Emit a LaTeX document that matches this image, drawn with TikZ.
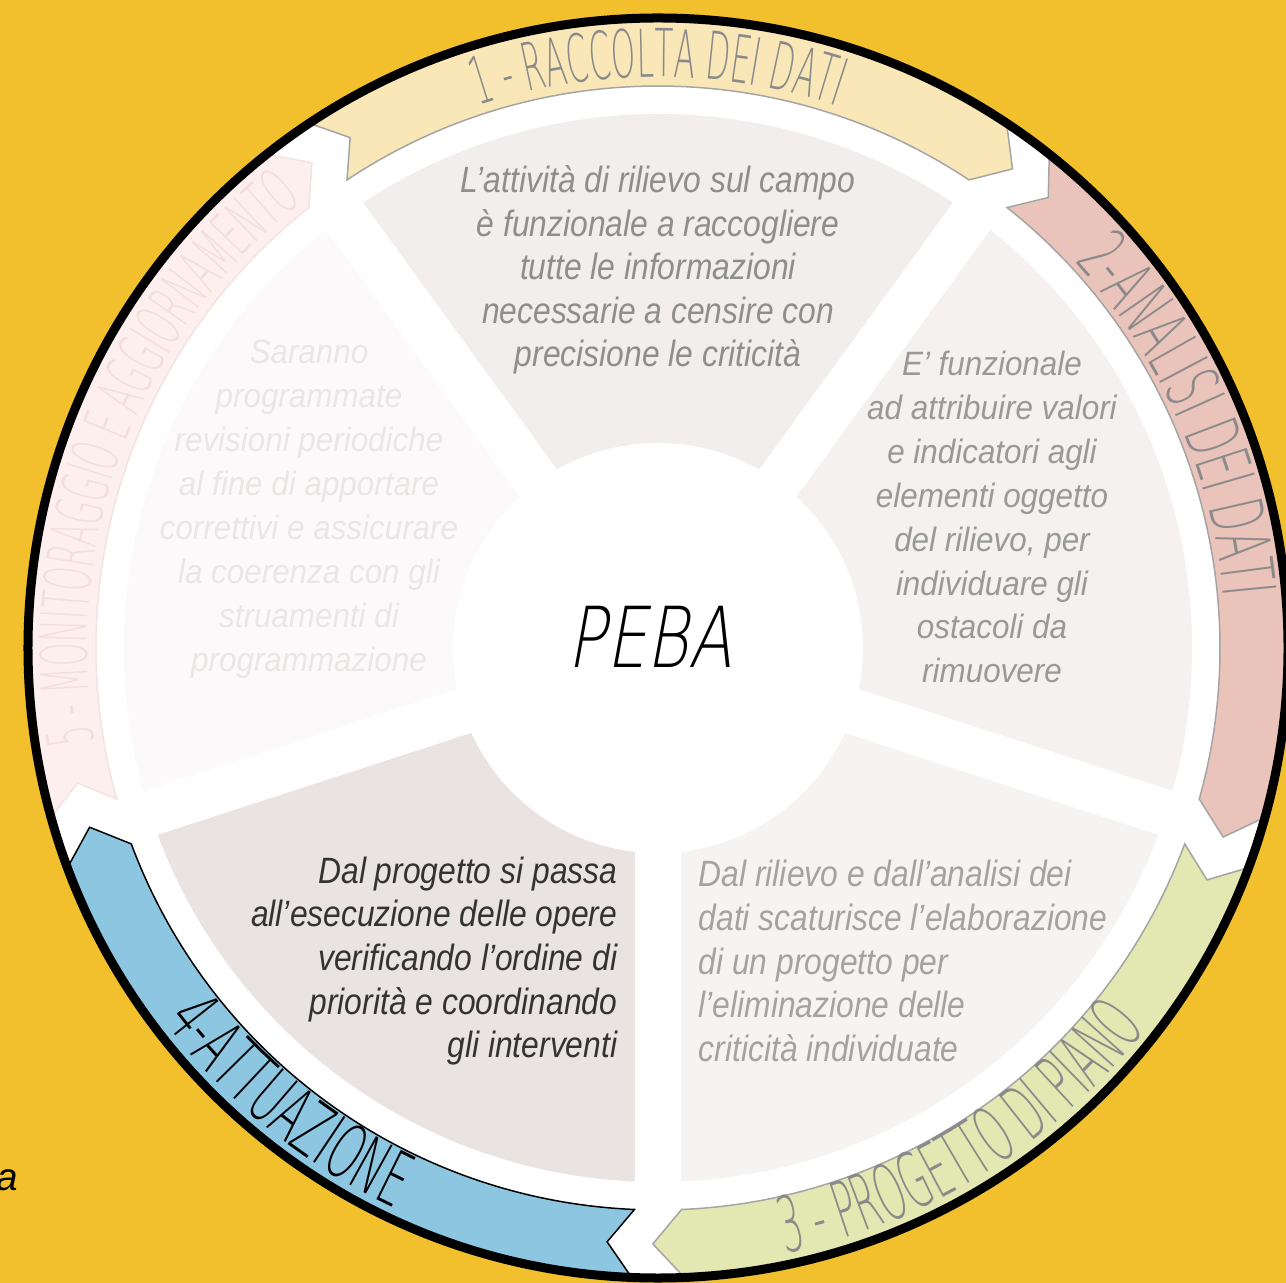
\documentclass[tikz,border=0pt]{standalone}
\usepackage{fontspec}
\setmainfont{Liberation Sans}
\IfFontExistsTF{DejaVu Sans ExtraLight}{\def\thinfam{DejaVu Sans ExtraLight}}{\def\thinfam{Liberation Sans}}
\newfontfamily\condit[FakeStretch=0.87]{Liberation Sans}
\newfontfamily\wideit[FakeStretch=0.93]{Liberation Sans}
\newfontfamily\pebafont[FakeStretch=0.76, FakeSlant=0.18]{\thinfam}
\newfontfamily\ribfont[FakeStretch=0.47]{\thinfam}
\newfontfamily\ribfontw[FakeStretch=0.53]{\thinfam}
\usetikzlibrary{decorations.text}

\definecolor{bgyellow}{HTML}{F1C02C}
\definecolor{piece1}{HTML}{F1EEED}
\definecolor{piece2}{HTML}{F4F1F0}
\definecolor{piece3}{HTML}{F6F4F3}
\definecolor{piece4}{HTML}{E9E3E2}
\definecolor{piece5}{HTML}{FBF9F9}
\definecolor{rib1}{HTML}{F9E7B8}
\definecolor{rib2}{HTML}{EAC3BA}
\definecolor{rib3}{HTML}{E3E7B1}
\definecolor{rib4}{HTML}{8DC6E1}
\definecolor{rib5}{HTML}{FCEFEE}
\definecolor{ribline}{HTML}{A5A5A5}
\definecolor{rib5line}{HTML}{F3E3E1}
\definecolor{labgray}{HTML}{8A8A8A}
\definecolor{lab5}{HTML}{F3DEDC}
\definecolor{txtone}{HTML}{8E8E8E}
\definecolor{txttwo}{HTML}{999999}
\definecolor{txtthree}{HTML}{A3A3A3}
\definecolor{txtfour}{HTML}{333333}
\definecolor{txtfive}{HTML}{EAE6E6}

\tikzset{
  gapline/.style={white, line width=0.46cm},
  ribbon/.style={line width=0.015cm, line join=miter},
  infotext/.style={inner sep=0pt},
  condtext/.style={infotext, font=\condit\itshape\fontsize{10.4}{12.4}\selectfont},
  widetext/.style={infotext, align=center, font=\wideit\itshape\fontsize{9.6}{12.5}\selectfont}
}

\begin{document}
\begin{tikzpicture}[x=0.01cm, y=0.01cm]
	% page and background
	\useasboundingbox (-658,-635) rectangle (628,648);
	\fill[bgyellow] (-658,-635) rectangle (628,648);
	\fill[white] (0,0) circle[radius=630];
	
	% pieces
	\fill[piece1] (0,0) -- (126:534) arc[start angle=126, end angle=54, radius=534] -- cycle;
	\fill[piece2] (0,0) -- (54:534) arc[start angle=54, end angle=-18, radius=534] -- cycle;
	\fill[piece3] (0,0) -- (-18:534) arc[start angle=-18, end angle=-90, radius=534] -- cycle;
	\fill[piece4] (0,0) -- (-90:534) arc[start angle=-90, end angle=-162, radius=534] -- cycle;
	\fill[piece5] (0,0) -- (-162:534) arc[start angle=-162, end angle=-234, radius=534] -- cycle;
	\foreach \a in {126,54,-18,-90,-162}
	\draw[gapline] (0,0) -- (\a:548);
	\fill[white] (0,0) circle[radius=205];
	
	% ribbons
	\foreach \t/\fc/\dc in {126/rib1/ribline, 54/rib2/ribline, -18/rib3/ribline, -90/rib4/black, -162/rib5/rib5line}
	\draw[ribbon, fill=\fc, draw=\dc] ({\t-2.4}:630)
	arc[start angle={\t-2.4}, end angle={\t-69.6}, radius=630]
	-- ({\t-72.5}:596) -- ({\t-69.6}:562)
	arc[start angle={\t-69.6}, end angle={\t-2.4}, radius=562]
	-- ({\t-4.9}:596) -- cycle;
	
	% ribbon labels
	\path[decorate, decoration={text along path, text align=center,
		text={|\ribfont\fontsize{18.8}{20}\selectfont\color{labgray}|1 - RACCOLTA DEI DATI}}]
	(126:571) arc[start angle=126, end angle=54, radius=571];
	\path[decorate, decoration={text along path, text align=center,
		text={|\ribfontw\fontsize{21}{22}\selectfont\color{labgray}|2-ANALISI DEI DATI}}]
	(60:568) arc[start angle=60, end angle=-12, radius=568];
	\path[decorate, decoration={text along path, text align=center,
		text={|\ribfont\fontsize{22}{24}\selectfont\color{labgray}|3 - PROGETTO DI PIANO}}]
	(-92:619) arc[start angle=-92, end angle=-24, radius=619];
	\path[decorate, decoration={text along path, text align=center,
		text={|\ribfontw\fontsize{21.5}{24}\selectfont\color{black}|4-ATTUAZIONE}}]
	(197:619) arc[start angle=197, end angle=265, radius=619];
	\path[decorate, decoration={text along path, text align=center,
		text={|\ribfont\fontsize{18.3}{20}\selectfont\color{lab5}|5 - MONITORAGGIO E AGGIORNAMENTO}}]
	(196:571) arc[start angle=196, end angle=122, radius=571];
	
	% texts
	\node[condtext, align=center, text=txtone] (text1) at (0,378) {
	L’attività di rilievo sul campo\\
	è funzionale a raccogliere\\
	tutte le informazioni\\
	necessarie a censire con\\
	precisione le criticità
	};
	\node[widetext, text=txttwo] (text2) at (334,131) {
	E’ funzionale\\
	ad attribuire valori\\
	e indicatori agli\\
	elementi oggetto\\
	del rilievo, per\\
	individuare gli\\
	ostacoli da\\
	rimuovere
	};
	\node[condtext, align=left, anchor=west, text=txtthree] (text3) at (40,-313) {
	Dal rilievo e dall’analisi dei\\
	dati scaturisce l’elaborazione\\
	di un progetto per\\
	l’eliminazione delle\\
	criticità individuate
	};
	\node[condtext, align=right, anchor=east, text=txtfour] (text4) at (-40,-313) {
	Dal progetto si passa\\
	all’esecuzione delle opere\\
	verificando l’ordine di\hspace*{0.08cm}\\
	priorità e coordinando\hspace*{0.1cm}\\
	gli interventi
	};
	\node[widetext, text=txtfive] (text5) at (-349,139) {
	Saranno\\
	programmate\\
	revisioni periodiche\\
	al fine di apportare\\
	correttivi e assicurare\\
	la coerenza con gli\\
	struamenti di\\
	programmazione
	};
	\node[infotext, font=\pebafont\fontsize{23.9}{28}\selectfont] (peba) at (-8,11) {PEBA};
	\node[infotext, font=\itshape\fontsize{11}{13}\selectfont] (stray) at (-651,-532) {a};
	
	% outer ring
	\draw[line width=0.09cm] (0,0) circle[radius=630];
\end{tikzpicture}
\end{document}
